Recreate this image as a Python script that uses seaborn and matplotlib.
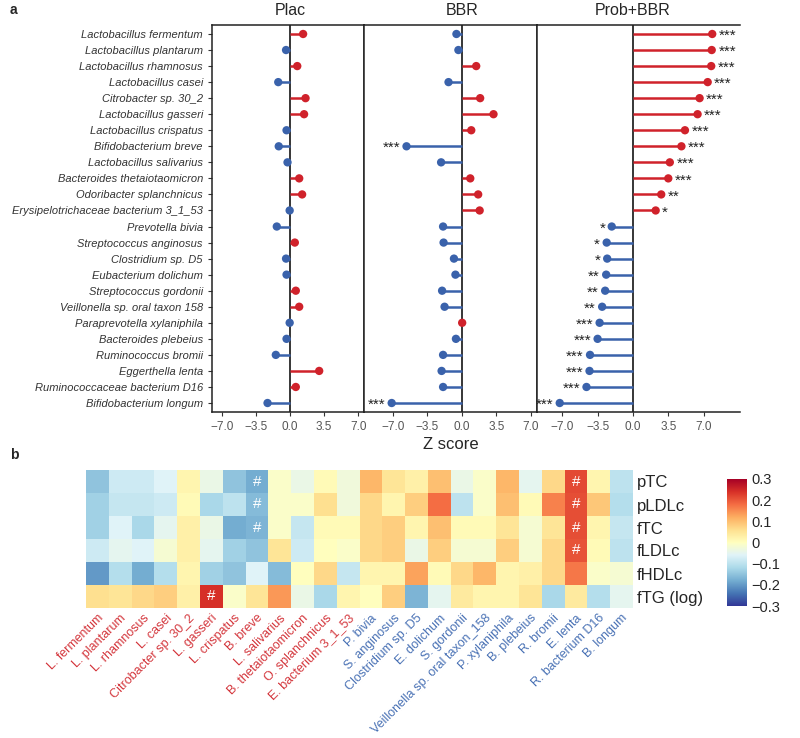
import numpy as np
import pandas as pd
import matplotlib
matplotlib.use("Agg")
import matplotlib.pyplot as plt
import seaborn as sns

# species, same order in both panels
species = [
    "Lactobacillus fermentum", "Lactobacillus plantarum", "Lactobacillus rhamnosus",
    "Lactobacillus casei", "Citrobacter sp. 30_2", "Lactobacillus gasseri",
    "Lactobacillus crispatus", "Bifidobacterium breve", "Lactobacillus salivarius",
    "Bacteroides thetaiotaomicron", "Odoribacter splanchnicus",
    "Erysipelotrichaceae bacterium 3_1_53", "Prevotella bivia", "Streptococcus anginosus",
    "Clostridium sp. D5", "Eubacterium dolichum", "Streptococcus gordonii",
    "Veillonella sp. oral taxon 158", "Paraprevotella xylaniphila", "Bacteroides plebeius",
    "Ruminococcus bromii", "Eggerthella lenta", "Ruminococcaceae bacterium D16",
    "Bifidobacterium longum",
]
short_names = [
    "L. fermentum", "L. plantarum", "L. rhamnosus", "L. casei", "Citrobacter sp. 30_2",
    "L. gasseri", "L. crispatus", "B. breve", "L. salivarius", "B. thetaiotaomicron",
    "O. splanchnicus", "E. bacterium 3_1_53", "P. bivia", "S. anginosus",
    "Clostridium sp. D5", "E. dolichum", "S. gordonii", "Veillonella sp. oral taxon_158",
    "P. xylaniphila", "B. plebeius", "R. bromii", "E. lenta", "R. bacterium D16", "B. longum",
]
enriched = [True] * 12 + [False] * 12

# Z scores per group
plac_z = [1.35, -0.4, 0.75, -1.2, 1.6, 1.45, -0.35, -1.15, -0.25, 0.95, 1.25, -0.03,
          -1.35, 0.5, -0.4, -0.35, 0.6, 0.95, -0.03, -0.35, -1.45, 3.0, 0.6, -2.3]
bbr_z = [-0.55, -0.35, 1.45, -1.35, 1.85, 3.2, 0.95, -5.6, -2.1, 0.85, 1.65, 1.8,
         -1.9, -1.85, -0.8, -0.65, -2.0, -1.75, 0.03, -0.6, -1.9, -2.05, -1.9, -7.1]
prob_z = [7.85, 7.8, 7.75, 7.4, 6.6, 6.4, 5.15, 4.8, 3.65, 3.5, 2.8, 2.25,
          -2.1, -2.6, -2.55, -2.65, -2.75, -3.05, -3.3, -3.5, -4.25, -4.3, -4.6, -7.25]
plac_stars = [""] * 24
bbr_stars = [""] * 7 + ["***"] + [""] * 15 + ["***"]
prob_stars = ["***"] * 10 + ["**"] + ["*"] * 4 + ["**"] * 3 + ["***"] * 6

# correlation heatmap
lipid_rows = ["pTC", "pLDLc", "fTC", "fLDLc", "fHDLc", "fTG (log)"]
corr_pTC = [-0.15, -0.08, -0.08, -0.06, 0.02, -0.04, -0.15, -0.18, -0.01, -0.04, 0.01, -0.03,
            0.11, 0.05, 0.03, 0.10, -0.04, -0.01, 0.11, -0.05, 0.07, 0.215, 0.02, -0.10]
corr_pLDLc = [-0.13, -0.09, -0.09, -0.08, 0.01, -0.12, -0.10, -0.16, -0.01, -0.01, 0.06, -0.03,
              0.07, 0.02, 0.08, 0.18, -0.10, -0.01, 0.10, 0.01, 0.16, 0.21, 0.09, -0.11]
corr_fTC = [-0.13, -0.06, -0.12, -0.05, 0.03, -0.04, -0.18, -0.17, -0.01, -0.09, 0.01, 0.01,
            0.07, 0.08, 0.02, 0.10, 0.01, 0.01, 0.05, -0.02, 0.05, 0.21, 0.02, -0.09]
corr_fLDLc = [-0.08, -0.05, -0.06, -0.02, 0.03, -0.05, -0.13, -0.15, 0.05, -0.08, 0.0, -0.01,
              0.07, 0.08, -0.04, 0.08, -0.02, -0.02, 0.08, -0.02, 0.07, 0.205, 0.01, -0.10]
corr_fHDLc = [-0.20, -0.11, -0.18, -0.11, 0.02, -0.13, -0.15, -0.06, -0.16, 0.0, 0.07, -0.09,
              0.02, 0.02, 0.13, 0.01, 0.07, 0.11, 0.02, 0.03, 0.07, 0.17, -0.01, -0.02]
corr_fTG = [0.06, 0.05, 0.07, 0.08, 0.03, 0.24, -0.01, 0.05, 0.14, -0.04, -0.12, 0.02,
            0.0, 0.08, -0.17, -0.05, 0.04, 0.02, 0.02, 0.05, -0.12, 0.04, -0.11, -0.05]
sig_cells = [(0, 7), (1, 7), (2, 7), (5, 5), (0, 21), (1, 21), (2, 21), (3, 21)]

sns.set_style("white")
plt.rcParams["font.family"] = ["Liberation Sans", "DejaVu Sans"]

W, H = 800, 738
RED, BLUE = "#d0222b", "#3a62ab"


def px_rect(left, top, right, bottom):
    return [left / W, 1 - bottom / H, (right - left) / W, (bottom - top) / H]


def minus(v):
    return f"{v:.1f}".replace("-", "\u2212")


fig = plt.figure(figsize=(W / 100, H / 100), dpi=100)

panels = [
    ("Plac", plac_z, plac_stars, (-8.0, 7.6), (212, 364)),
    ("BBR", bbr_z, bbr_stars, (-9.9, 7.6), (364, 537)),
    ("Prob+BBR", prob_z, prob_stars, (-9.5, 10.6), (537, 740)),
]
n = len(species)
for k, (title, vals, stars, xlim, (x0, x1)) in enumerate(panels):
    ax = fig.add_axes(px_rect(x0, 25, x1, 412))
    df = pd.DataFrame({"z": vals, "row": np.arange(n)})
    df["dir"] = np.where(df["z"] > 0, "up", "down")
    pal = {"up": RED, "down": BLUE}
    ax.axvline(0, color="black", lw=1.1, zorder=1)
    ax.hlines(df["row"], 0, df["z"], colors=df["dir"].map(pal), lw=1.8, zorder=2)
    sns.scatterplot(data=df, x="z", y="row", hue="dir", palette=pal, s=36,
                    edgecolor="none", legend=False, ax=ax, zorder=3)
    for i, (v, s) in enumerate(zip(vals, stars)):
        if s:
            ax.text(v + (0.65 if v > 0 else -0.65), i + 0.12, s,
                    ha="left" if v > 0 else "right", va="center", fontsize=11,
                    color="#222222")
    ax.set_xlim(xlim)
    ax.set_ylim(n - 0.44, -0.56)
    ax.set_xticks([-7, -3.5, 0, 3.5, 7])
    ax.set_xticklabels([minus(t) for t in [-7, -3.5, 0, 3.5, 7]])
    ax.tick_params(axis="x", colors="#333333", labelcolor="#555555", labelsize=8.5,
                   length=3, width=0.8, bottom=True)
    ax.set_xlabel("Z score" if k == 1 else "", fontsize=12, labelpad=3)
    ax.set_ylabel("")
    ax.text(0, -1.0, title, ha="center", va="bottom", fontsize=11.5)
    if k == 0:
        ax.set_yticks(np.arange(n))
        ax.set_yticklabels(species, style="italic", fontsize=8, color="#222222")
        ax.tick_params(axis="y", length=3, width=0.8, left=True, colors="#333333")
    else:
        ax.set_yticks([])
    for side, sp in ax.spines.items():
        sp.set_color("#222222")
        sp.set_linewidth(1.1)
    if k == 2:
        ax.spines["right"].set_visible(False)

# heatmap panel
hm = pd.DataFrame([corr_pTC, corr_pLDLc, corr_fTC, corr_fLDLc, corr_fHDLc, corr_fTG],
                  index=lipid_rows, columns=short_names)
annot = np.full(hm.shape, "", dtype=object)
for r, c in sig_cells:
    annot[r, c] = "#"

ax_h = fig.add_axes(px_rect(86, 470, 633, 608))
cax = fig.add_axes(px_rect(727, 479, 747, 606))
sns.heatmap(hm, cmap="RdYlBu_r", vmin=-0.3, vmax=0.3, annot=annot, fmt="",
            annot_kws={"color": "white", "fontsize": 11}, ax=ax_h, cbar_ax=cax,
            cbar_kws={"ticks": [-0.3, -0.2, -0.1, 0, 0.1, 0.2, 0.3]})
ax_h.yaxis.tick_right()
ax_h.set_yticklabels(lipid_rows, rotation=0, fontsize=12)
ax_h.set_xticklabels(short_names, rotation=45, ha="right", rotation_mode="anchor", fontsize=9)
for lab, up in zip(ax_h.get_xticklabels(), enriched):
    lab.set_color("#d4373d" if up else "#4a72b5")
ax_h.tick_params(length=0, pad=3)
ax_h.set_xlabel("")
ax_h.set_ylabel("")

cax.set_yticklabels(["\u22120.3", "\u22120.2", "\u22120.1", "0", "0.1", "0.2", "0.3"])
cax.tick_params(axis="y", length=4, width=0.8, color="white", direction="in",
                labelsize=10.5, pad=3)

fig.text(10 / W, 1 - 10 / H, "a", fontsize=10, fontweight="bold", va="center")
fig.text(10 / W, 1 - 455 / H, "b", fontsize=10, fontweight="bold", va="center")

fig.savefig("out.png", dpi=100)
